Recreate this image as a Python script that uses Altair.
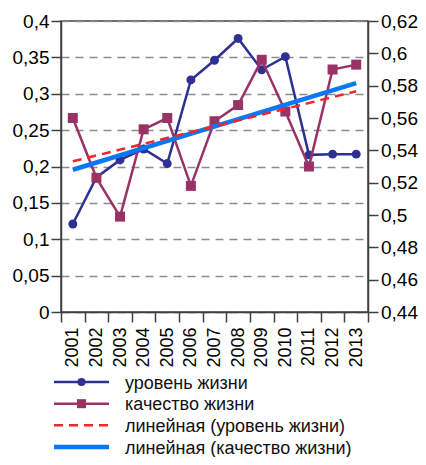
import altair as alt
import pandas as pd

years = [2001, 2002, 2003, 2004, 2005, 2006, 2007, 2008, 2009, 2010, 2011, 2012, 2013]
level = [0.121, 0.185, 0.209, 0.224, 0.204, 0.319, 0.346, 0.376, 0.333, 0.351, 0.216, 0.217, 0.217]
quality = [0.560, 0.523, 0.499, 0.553, 0.560, 0.518, 0.558, 0.568, 0.596, 0.564, 0.530, 0.590, 0.593]

left_ticks = [0, 0.05, 0.1, 0.15, 0.2, 0.25, 0.3, 0.35, 0.4]
right_ticks = [0.44, 0.46, 0.48, 0.5, 0.52, 0.54, 0.56, 0.58, 0.6, 0.62]

S1 = "уровень жизни"
S2 = "качество жизни"
S3 = "линейная (уровень жизни)"
S4 = "линейная (качество жизни)"
series_names = [S1, S2, S3, S4]
series_colors = ["#2E3192", "#993366", "#F0262B", "#0A78F5"]

df = pd.DataFrame({"year": years, "level": level, "quality": quality})
legend_df = pd.DataFrame({"name": series_names})

FONT = "Liberation Sans"
AXIS_COLOR = "#404040"
label_expr = "replace(format(datum.value, '.2~f'), '.', ',')"

color_scale = alt.Scale(domain=series_names, range=series_colors)
color_enc = alt.Color("name:N", scale=color_scale, legend=None)

x_enc = alt.X("year:O",
              scale=alt.Scale(type="band", paddingInner=0, paddingOuter=0),
              axis=alt.Axis(title=None, labelAngle=270, tickBand="extent", tickSize=10,
                            labelPadding=5, labelFontSize=18, labelFont=FONT,
                            labelColor="black", domainColor=AXIS_COLOR, tickColor=AXIS_COLOR,
                            domainWidth=1.5, tickWidth=1.5, grid=False))

left_scale = alt.Scale(domain=[0, 0.4], nice=False, zero=True)
right_scale = alt.Scale(domain=[0.44, 0.62], nice=False, zero=False)

y_left = alt.Y("level:Q", scale=left_scale,
               axis=alt.Axis(title=None, orient="left", values=left_ticks, labelExpr=label_expr,
                             tickSize=10, labelPadding=2, labelFontSize=19, labelFont=FONT,
                             labelColor="black", domainColor=AXIS_COLOR, tickColor=AXIS_COLOR,
                             domainWidth=1.5, tickWidth=1.5, grid=True, gridDash=[8, 6],
                             gridColor="#8c8c8c", gridWidth=1.3))
y_right = alt.Y("quality:Q", scale=right_scale,
                axis=alt.Axis(title=None, orient="right", values=right_ticks, labelExpr=label_expr,
                              tickSize=10, labelPadding=2.5, labelFontSize=19, labelFont=FONT,
                              labelColor="black", domainColor=AXIS_COLOR, tickColor=AXIS_COLOR,
                              domainWidth=1.5, tickWidth=1.5, grid=False))

def named(chart, name):
    return chart.transform_calculate(name=f"'{name}'")

base = alt.Chart(df)

lvl_line = named(base, S1).mark_line(strokeWidth=2.5).encode(x=x_enc, y=y_left, color=color_enc)
lvl_pts = named(base, S1).mark_point(filled=True, shape="circle", size=80, opacity=1).encode(
    x=x_enc, y=y_left, color=color_enc)
left_group = alt.layer(lvl_line, lvl_pts)

q_line = named(base, S2).mark_line(strokeWidth=2.5).encode(x=x_enc, y=y_right, color=color_enc)
q_pts = named(base, S2).mark_point(filled=True, shape="square", size=100, opacity=1).encode(
    x=x_enc, y=y_right, color=color_enc)
q_trend = named(base.transform_regression("year", "quality"), S4).mark_line(strokeWidth=4.5).encode(
    x=x_enc, y=y_right, color=color_enc)
right_group = alt.layer(q_line, q_pts, q_trend)

lvl_trend = named(base.transform_regression("year", "level"), S3).mark_line(
    strokeWidth=2.5, strokeDash=[9, 6]).encode(
    x=x_enc,
    y=alt.Y("level:Q", scale=left_scale, axis=None),
    color=color_enc)

# legend (below the chart), rows placed by a point scale
leg = alt.Chart(legend_df)
leg_y = alt.Y("name:N", scale=alt.Scale(type="point", domain=series_names, range=[361, 426], padding=0),
              axis=None)

def only(names):
    return alt.FieldOneOfPredicate(field="name", oneOf=names)

leg_solid = leg.transform_filter(only([S1, S2])).mark_rule(strokeWidth=2.5).encode(
    x=alt.value(-7), x2=alt.value(48), y=leg_y, color=color_enc)
leg_dash = leg.transform_filter(only([S3])).mark_rule(strokeWidth=2.5, strokeDash=[9, 6]).encode(
    x=alt.value(-7), x2=alt.value(48), y=leg_y, color=color_enc)
leg_thick = leg.transform_filter(only([S4])).mark_rule(strokeWidth=4.5).encode(
    x=alt.value(-7), x2=alt.value(48), y=leg_y, color=color_enc)
leg_circ = leg.transform_filter(only([S1])).mark_point(filled=True, shape="circle", size=66, opacity=1).encode(
    x=alt.value(20.5), y=leg_y, color=color_enc)
leg_sq = leg.transform_filter(only([S2])).mark_point(filled=True, shape="square", size=81, opacity=1).encode(
    x=alt.value(20.5), y=leg_y, color=color_enc)
leg_text = leg.mark_text(align="left", baseline="middle", dy=1.5, fontSize=18, font=FONT,
                         color="#111111").encode(
    x=alt.value(64), y=leg_y, text="name:N")
legend_group = alt.layer(leg_solid, leg_dash, leg_thick, leg_circ, leg_sq, leg_text)

chart = alt.layer(left_group, right_group, lvl_trend, legend_group).resolve_scale(
    y="independent"
).properties(
    width=307, height=291,
    autosize=alt.AutoSizeParams(type="none"),
    padding={"left": 53, "top": 13, "right": 50, "bottom": 145},
).configure_view(stroke=AXIS_COLOR, strokeWidth=1.5)

chart.save("out.html", embed_options={"renderer": "svg", "actions": False})
